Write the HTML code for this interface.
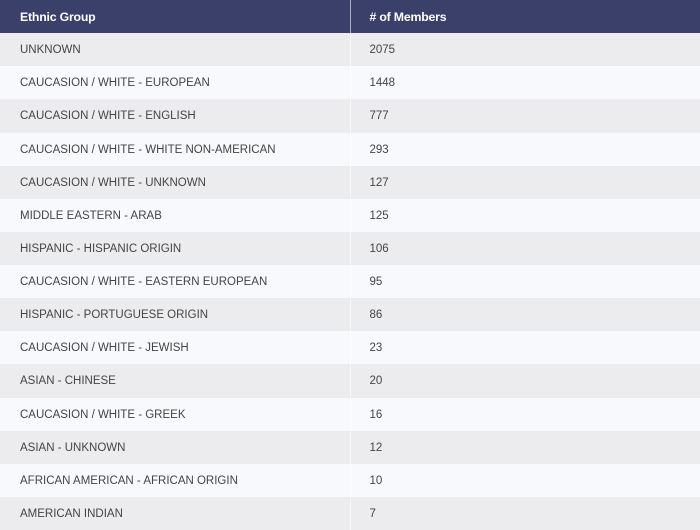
<!DOCTYPE html>
<html><head><meta charset="utf-8"><style>
html,body{margin:0;padding:0;width:700px;height:530px;overflow:hidden;background:#f8f9fc;font-family:"Liberation Sans",sans-serif;}
table{border-collapse:collapse;width:700px;table-layout:fixed;}
th,td{height:33.13px;padding:1px 0 0 20px;text-align:left;font-size:11.5px;box-sizing:border-box;}
th{background:#3b406b;color:#fff;font-weight:bold;font-size:12.3px;letter-spacing:-0.2px;padding-top:0;}
td{color:#444;}
th:first-child,td:first-child{width:350px;border-right:1px solid rgba(255,255,255,0.6);}
th:last-child,td:last-child{padding-left:19px;}
tr:nth-child(odd) td{background:#ececef;}
tr:nth-child(even) td{background:#f8f9fc;}
</style></head><body>
<table>
<thead><tr><th>Ethnic Group</th><th># of Members</th></tr></thead>
<tbody id="tb"></tbody>
</table>
<script>
const groups=["UNKNOWN","CAUCASION / WHITE - EUROPEAN","CAUCASION / WHITE - ENGLISH","CAUCASION / WHITE - WHITE NON-AMERICAN","CAUCASION / WHITE - UNKNOWN","MIDDLE EASTERN - ARAB","HISPANIC - HISPANIC ORIGIN","CAUCASION / WHITE - EASTERN EUROPEAN","HISPANIC - PORTUGUESE ORIGIN","CAUCASION / WHITE - JEWISH","ASIAN - CHINESE","CAUCASION / WHITE - GREEK","ASIAN - UNKNOWN","AFRICAN AMERICAN - AFRICAN ORIGIN","AMERICAN INDIAN"];
const members=[2075,1448,777,293,127,125,106,95,86,23,20,16,12,10,7];
const tb=document.getElementById('tb');
groups.forEach((g,i)=>{
const tr=document.createElement('tr');


const a=document.createElement('td');a.textContent=g;


const b=document.createElement('td');b.textContent=members[i];


tr.appendChild(a);tr.appendChild(b);tb.appendChild(tr);
});
</script>
</body></html>
